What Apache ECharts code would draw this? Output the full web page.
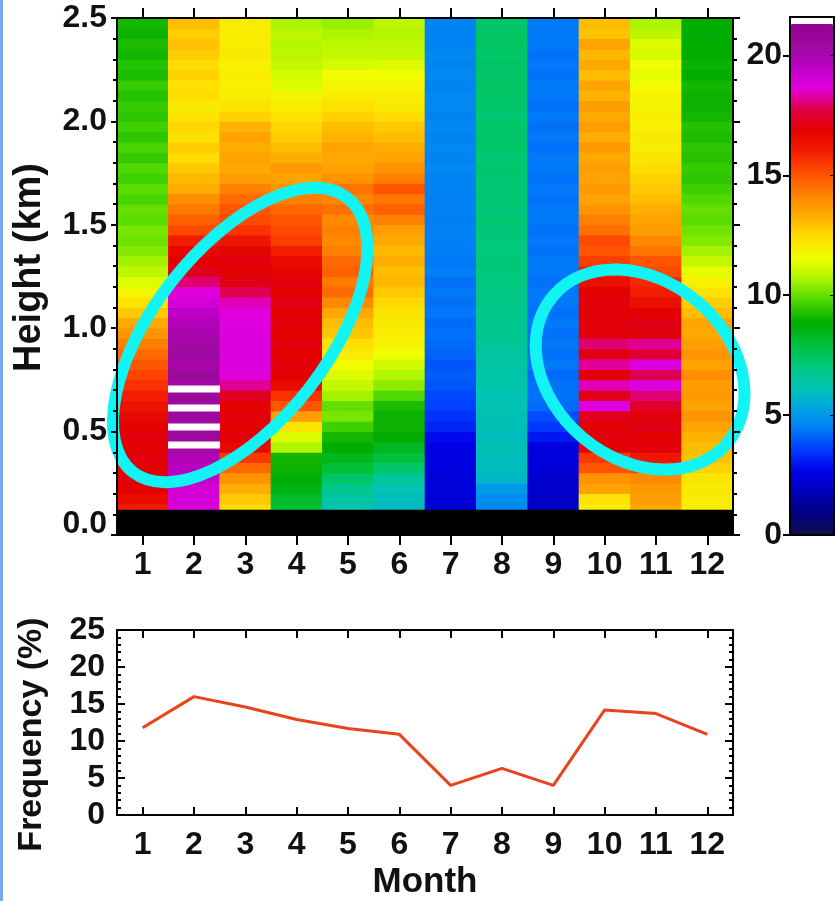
<!DOCTYPE html>
<html>
<head>
    <meta charset="UTF-8">
    <title>Monthly cloud frequency by height</title>
    <script src="https://cdn.jsdelivr.net/npm/echarts@6/dist/echarts.min.js"></script>
    <style>
        body { margin: 0; background: #fff; }
        #main { width: 836px; height: 901px; }
    </style>
</head>
<body>
<div id="main"></div>
<script type="text/javascript">
    // months and height bins (bottom edge of each 0.05 km bin)
    var months = ['1', '2', '3', '4', '5', '6', '7', '8', '9', '10', '11', '12'];
    var heightBins = [0.10, 0.15, 0.20, 0.25, 0.30, 0.35, 0.40, 0.45, 0.50, 0.55,
        0.60, 0.65, 0.70, 0.75, 0.80, 0.85, 0.90, 0.95, 1.00, 1.05,
        1.10, 1.15, 1.20, 1.25, 1.30, 1.35, 1.40, 1.45, 1.50, 1.55,
        1.60, 1.65, 1.70, 1.75, 1.80, 1.85, 1.90, 1.95, 2.00, 2.05,
        2.10, 2.15, 2.20, 2.25, 2.30, 2.35, 2.40, 2.45];
    var binDepth = 0.05;

    // frequency per height bin, bottom to top
    var jan = [16.0, 16.5, 16.8, 17.0, 16.8, 17.0, 16.8, 17.0, 16.8, 16.6, 16.3, 16.0, 15.6, 15.3, 15.0, 14.6, 14.2, 13.8, 13.4, 12.8,
        12.2, 11.8, 11.3, 10.9, 10.6, 10.3, 10.1, 10.2, 9.9, 10.0, 9.7, 9.9, 9.6, 9.8, 9.5, 9.7, 9.4, 9.6, 9.4, 9.5,
        9.3, 9.5, 9.2, 9.3, 9.1, 9.2, 9.0, 9.1];
    var feb = [18.8, 18.9, 19.0, 19.3, 19.6, 19.9, 20.2, 20.4, 20.2, 20.4, 20.2, 20.4, 20.2, 20.4, 20.1, 20.3, 20.2, 20.0, 19.8, 19.5,
        18.9, 18.6, 18.0, 17.2, 16.8, 16.6, 16.0, 15.2, 14.8, 14.3, 13.9, 13.3, 13.1, 12.8, 12.4, 12.7, 12.3, 12.5, 12.2, 12.1,
        12.4, 12.3, 12.6, 12.4, 12.7, 12.9, 12.7, 13.0];
    var mar = [12.4, 12.8, 13.3, 13.8, 14.6, 15.5, 16.6, 17.0, 16.8, 17.0, 16.8, 17.2, 18.2, 18.6, 18.7, 18.7, 18.7, 18.7, 18.6, 18.7,
        18.4, 17.8, 17.1, 16.8, 17.0, 16.7, 16.2, 15.6, 15.2, 15.0, 14.6, 14.2, 13.6, 13.4, 13.5, 13.3, 13.5, 13.2, 12.6, 12.2,
        12.0, 11.9, 12.0, 11.9, 12.1, 12.0, 12.0, 12.0];
    var apr = [8.0, 8.2, 8.5, 8.8, 9.0, 9.1, 10.8, 11.3, 12.2, 13.6, 15.0, 15.6, 16.5, 16.8, 17.0, 16.8, 17.0, 16.8, 17.0, 16.9,
        17.1, 16.8, 17.0, 16.7, 16.5, 16.0, 15.4, 15.2, 15.0, 14.6, 14.2, 13.8, 13.5, 13.7, 13.3, 13.0, 12.7, 12.5, 12.2, 12.0,
        11.8, 11.3, 11.2, 11.0, 10.9, 10.8, 10.9, 10.7];
    var may = [6.2, 6.4, 6.8, 7.3, 8.0, 8.4, 8.9, 9.1, 9.6, 10.2, 10.0, 10.6, 11.0, 11.3, 11.6, 12.0, 12.3, 12.8, 13.0, 13.4,
        14.0, 14.6, 14.3, 14.8, 14.6, 14.2, 14.0, 14.2, 14.0, 14.5, 14.1, 14.4, 13.8, 13.5, 13.4, 13.5, 13.2, 13.0, 12.6, 12.3,
        12.0, 11.8, 11.6, 11.2, 11.0, 10.9, 10.7, 10.5];
    var jun = [5.9, 6.0, 6.2, 6.6, 7.3, 7.9, 8.4, 8.9, 9.0, 9.0, 9.2, 9.8, 10.4, 10.8, 11.1, 11.5, 11.9, 12.0, 12.1, 12.2,
        12.5, 12.8, 13.1, 13.0, 13.3, 13.1, 13.4, 13.6, 14.2, 14.8, 14.4, 15.0, 14.2, 13.8, 13.5, 13.3, 13.0, 12.8, 12.4, 12.1,
        12.0, 11.8, 11.6, 11.3, 11.0, 10.9, 10.8, 10.9];
    var jul = [2.3, 2.3, 2.4, 2.4, 2.5, 2.5, 2.6, 2.8, 3.2, 3.4, 3.6, 3.7, 3.9, 4.0, 3.9, 4.1, 4.2, 4.3, 4.2, 4.4,
        4.3, 4.4, 4.3, 4.5, 4.4, 4.5, 4.5, 4.6, 4.5, 4.6, 4.5, 4.6, 4.6, 4.7, 4.6, 4.7, 4.6, 4.7, 4.6, 4.7,
        4.7, 4.6, 4.7, 4.6, 4.7, 4.6, 4.6, 4.6];
    var aug = [4.7, 4.8, 5.0, 5.8, 6.0, 6.0, 6.1, 6.0, 6.1, 6.1, 6.2, 6.2, 6.3, 6.3, 6.4, 6.5, 6.6, 6.7, 6.8, 6.8,
        6.9, 6.9, 7.0, 7.0, 7.1, 7.0, 7.1, 7.1, 7.2, 7.1, 7.2, 7.2, 7.2, 7.3, 7.2, 7.3, 7.3, 7.3, 7.2, 7.3,
        7.3, 7.4, 7.3, 7.4, 7.3, 7.4, 7.4, 7.3];
    var sep = [1.9, 2.0, 2.1, 2.2, 2.3, 2.4, 2.5, 3.0, 3.5, 3.8, 4.2, 4.3, 4.3, 4.2, 4.4, 4.3, 4.4, 4.3, 4.4, 4.3,
        4.4, 4.4, 4.3, 4.4, 4.4, 4.3, 4.4, 4.3, 4.4, 4.4, 4.3, 4.4, 4.3, 4.4, 4.4, 4.3, 4.4, 4.3, 4.4, 4.3,
        4.4, 4.4, 4.3, 4.4, 4.3, 4.4, 4.4, 4.4];
    var oct = [12.0, 12.3, 13.5, 13.8, 15.0, 15.5, 16.8, 17.0, 16.9, 17.2, 18.7, 17.2, 18.4, 17.0, 18.2, 17.1, 18.0, 17.0, 17.0, 16.9,
        17.0, 16.8, 16.4, 16.0, 15.4, 15.0, 15.2, 14.5, 14.2, 13.8, 13.5, 13.7, 13.5, 13.6, 13.4, 13.7, 13.3, 13.6, 13.4, 13.6,
        13.2, 13.5, 13.0, 13.4, 13.1, 13.5, 12.9, 13.0];
    var nov = [13.4, 13.6, 13.7, 14.0, 15.2, 16.2, 17.0, 16.9, 17.1, 17.0, 17.4, 18.0, 18.7, 17.8, 18.8, 17.5, 18.2, 17.0, 17.1, 16.8,
        16.4, 16.0, 15.8, 15.2, 15.0, 14.4, 14.0, 13.6, 13.5, 13.3, 13.0, 12.8, 12.6, 12.4, 12.2, 12.0, 12.1, 11.9, 12.0, 11.8,
        11.9, 11.6, 11.4, 11.5, 11.2, 11.3, 10.9, 10.7];
    var dec = [12.0, 12.0, 12.1, 12.2, 12.6, 12.9, 13.0, 13.2, 13.5, 13.8, 13.5, 13.7, 13.6, 13.9, 13.5, 13.8, 13.6, 13.4, 13.5, 13.0,
        12.7, 12.2, 11.9, 11.4, 11.0, 10.6, 10.3, 10.1, 9.9, 10.0, 9.8, 9.6, 9.4, 9.5, 9.3, 9.4, 9.2, 9.3, 9.1, 9.0,
        9.0, 9.1, 8.9, 9.0, 8.9, 8.9, 8.8, 8.9];

    // bins above the colour scale (drawn white) in February: [bottom, top] km
    var overflowFeb = [[0.42, 0.45], [0.507, 0.537], [0.599, 0.629], [0.691, 0.721]];
    // masked layer near the ground: [bottom, top] km
    var groundLayer = [0, 0.12];

    // monthly total frequency (%)
    var monthlyFreq = [11.8, 16.0, 14.6, 12.9, 11.7, 10.9, 4.0, 6.3, 4.0, 14.2, 13.7, 10.9];

    // highlighted regions: [month index, offset in months, height km]
    var highlightCenters = [[2, -0.1, 0.967], [10, -0.31, 0.80]];

    var colorScale = ['#10104a', '#000080', '#0000bc', '#0000e8', '#003cff', '#007cf8', '#00a8e0', '#00c4b0',
        '#00c878', '#00c038', '#00ac00', '#4cd800', '#a8f400', '#f0ff00', '#ffdc00', '#ffac00',
        '#ff8000', '#ff5000', '#f41c00', '#e20000', '#e00048', '#e000e0', '#bc00c4', '#9c0a9c', '#940094'];

    var monthCols = [jan, feb, mar, apr, may, jun, jul, aug, sep, oct, nov, dec];
    var cells = [];
    monthCols.forEach(function (col, m) {
        col.forEach(function (v, k) {
            cells.push([m, heightBins[k], heightBins[k] + binDepth, v]);
        });
    });
    var groundCells = months.map(function (name, m) { return [m, groundLayer[0], groundLayer[1]]; });
    var overflowCells = overflowFeb.map(function (r) { return [1, r[0], r[1]]; });

    var FONT = '"Liberation Sans", Arial, sans-serif';
    var labelStyle = { fontFamily: FONT, fontSize: 32, fontWeight: 'bold', color: '#111' };
    var frame = { show: true, onZero: false, lineStyle: { color: '#000', width: 2 } };
    var tickLine = { color: '#000', width: 2 };

    function boxRenderer(fixedColor) {
        return function (params, api) {
            var lo = api.coord([api.value(0), api.value(1)]);
            var hi = api.coord([api.value(0), api.value(2)]);
            var w = api.size([1, 0])[0];
            var c = fixedColor || api.visual('color');
            return {
                type: 'rect',
                shape: { x: lo[0] - w / 2 - 0.3, y: hi[1] - 0.4, width: w + 0.6, height: lo[1] - hi[1] + 0.8 },
                style: { fill: c }
            };
        };
    }

    var ringShapes = [{ rx: 174, ry: 87, rot: 52 }, { rx: 114, ry: 89, rot: -40 }];
    function ringRenderer(params, api) {
        var p = api.coord([api.value(0), api.value(2)]);
        var w = api.size([1, 0])[0];
        var s = ringShapes[params.dataIndex];
        return {
            type: 'ellipse',
            x: p[0] + api.value(1) * w,
            y: p[1],
            rotation: s.rot * Math.PI / 180,
            shape: { cx: 0, cy: 0, rx: s.rx, ry: s.ry },
            style: { fill: 'none', stroke: '#12f4f4', lineWidth: 12 }
        };
    }

    var chart = echarts.init(document.getElementById('main'));
    var option = {
        backgroundColor: '#fff',
        animation: false,
        graphic: [{ type: 'rect', left: 0, top: 0, shape: { width: 3, height: 901 }, style: { fill: '#78a6f2' } }],
        grid: [
            { left: 117, top: 18, width: 616, height: 517 },
            { left: 790, top: 17, width: 44, height: 518 },
            { left: 117, top: 630, width: 616, height: 187 }
        ],
        visualMap: {
            type: 'continuous',
            seriesIndex: 0,
            dimension: 3,
            min: 0,
            max: 21.3,
            calculable: false,
            left: 790,
            top: 24,
            itemWidth: 44,
            itemHeight: 511,
            padding: 0,
            z: 1,
            inRange: { color: colorScale },
            outOfRange: { color: '#ffffff' }
        },
        xAxis: [
            {
                gridIndex: 0, type: 'category', data: months, position: 'bottom', z: 10,
                axisLine: frame,
                axisTick: { show: true, alignWithLabel: true, length: 10, lineStyle: tickLine },
                axisLabel: Object.assign({ margin: 14 }, labelStyle)
            },
            {
                gridIndex: 0, type: 'category', data: months, position: 'top', z: 10,
                axisLine: frame,
                axisTick: { show: true, alignWithLabel: true, length: 10, lineStyle: tickLine },
                axisLabel: { show: false }
            },
            {
                gridIndex: 1, type: 'category', data: [''], position: 'bottom', z: 10,
                axisLine: frame, axisTick: { show: false }, axisLabel: { show: false }
            },
            {
                gridIndex: 1, type: 'category', data: [''], position: 'top', z: 10,
                axisLine: frame, axisTick: { show: false }, axisLabel: { show: false }
            },
            {
                gridIndex: 2, type: 'category', data: months, position: 'bottom', z: 10,
                axisLine: frame,
                axisTick: { show: true, alignWithLabel: true, inside: true, length: 8, lineStyle: tickLine },
                axisLabel: Object.assign({ margin: 14 }, labelStyle),
                name: 'Month', nameLocation: 'middle', nameGap: 50,
                nameTextStyle: { fontFamily: FONT, fontSize: 35, fontWeight: 'bold', color: '#111' }
            },
            {
                gridIndex: 2, type: 'category', data: months, position: 'top', z: 10,
                axisLine: frame,
                axisTick: { show: true, alignWithLabel: true, inside: true, length: 8, lineStyle: tickLine },
                axisLabel: { show: false }
            }
        ],
        yAxis: [
            {
                gridIndex: 0, type: 'value', min: 0, max: 2.5, interval: 0.5, position: 'left', z: 10,
                axisLine: frame,
                axisTick: { show: true, length: 6, lineStyle: tickLine },
                minorTick: { show: true, splitNumber: 5, length: 4, lineStyle: tickLine },
                splitLine: { show: false },
                axisLabel: Object.assign({
                    margin: 10,
                    formatter: function (v) { return v === 0 ? '{lift|0.0}' : v.toFixed(1); },
                    rich: { lift: { fontFamily: FONT, fontSize: 32, fontWeight: 'bold', color: '#111', padding: [0, 0, 22, 0] } }
                }, labelStyle),
                name: 'Height (km)', nameLocation: 'middle', nameGap: 68,
                nameTextStyle: { fontFamily: FONT, fontSize: 38, fontWeight: 'bold', color: '#111', padding: [0, 0, 0, 18] }
            },
            {
                gridIndex: 0, type: 'value', min: 0, max: 2.5, interval: 0.5, position: 'right', z: 10,
                axisLine: frame,
                axisTick: { show: true, length: 7, lineStyle: tickLine },
                minorTick: { show: true, splitNumber: 5, length: 4, lineStyle: tickLine },
                splitLine: { show: false },
                axisLabel: { show: false }
            },
            {
                gridIndex: 1, type: 'value', min: 0, max: 21.6, interval: 5, position: 'left', z: 10,
                axisLine: frame,
                axisTick: { show: true, length: 7, lineStyle: tickLine },
                splitLine: { show: false },
                axisLabel: Object.assign({ margin: 8, showMaxLabel: false }, labelStyle)
            },
            {
                gridIndex: 1, type: 'value', min: 0, max: 21.6, interval: 5, position: 'right', z: 10,
                axisLine: frame,
                axisTick: { show: true, inside: true, length: 4, lineStyle: { color: '#000', width: 1 } },
                splitLine: { show: false },
                axisLabel: { show: false }
            },
            {
                gridIndex: 2, type: 'value', min: 0, max: 25, interval: 5, position: 'left', z: 10,
                axisLine: frame,
                axisTick: { show: true, inside: true, length: 8, lineStyle: tickLine },
                minorTick: { show: true, splitNumber: 5, length: 4, lineStyle: tickLine },
                splitLine: { show: false },
                axisLabel: Object.assign({ margin: 12 }, labelStyle),
                name: 'Frequency (%)', nameLocation: 'middle', nameGap: 68,
                nameTextStyle: { fontFamily: FONT, fontSize: 34, fontWeight: 'bold', color: '#111', padding: [0, 24, 0, 0] }
            },
            {
                gridIndex: 2, type: 'value', min: 0, max: 25, interval: 5, position: 'right', z: 10,
                axisLine: frame,
                axisTick: { show: true, inside: true, length: 8, lineStyle: tickLine },
                minorTick: { show: true, splitNumber: 5, length: 4, lineStyle: tickLine },
                splitLine: { show: false },
                axisLabel: { show: false }
            }
        ],
        series: [
            {
                name: 'cells', type: 'custom', xAxisIndex: 0, yAxisIndex: 0,
                renderItem: boxRenderer(null), data: cells, z: 1, silent: true
            },
            {
                name: 'ground', type: 'custom', xAxisIndex: 0, yAxisIndex: 0,
                renderItem: boxRenderer('#000'), data: groundCells, z: 2, silent: true
            },
            {
                name: 'overflow', type: 'custom', xAxisIndex: 0, yAxisIndex: 0,
                renderItem: boxRenderer('#fff'), data: overflowCells, z: 3, silent: true
            },
            {
                name: 'highlight', type: 'custom', xAxisIndex: 0, yAxisIndex: 0,
                renderItem: ringRenderer, data: highlightCenters, z: 5, clip: false, silent: true
            },
            {
                name: 'frequency', type: 'line', xAxisIndex: 4, yAxisIndex: 4,
                data: monthlyFreq, symbol: 'none',
                lineStyle: { color: '#e8431c', width: 3 }
            }
        ]
    };
    chart.setOption(option);
</script>
</body>
</html>
